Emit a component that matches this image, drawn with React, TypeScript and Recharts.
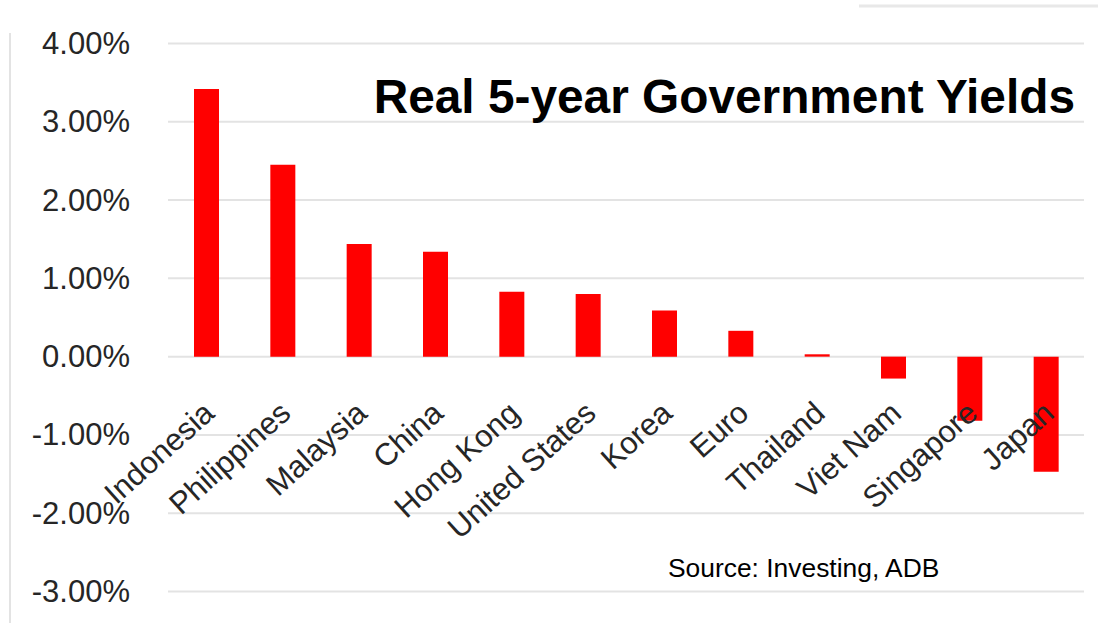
import React from 'react';
import { BarChart, Bar, XAxis, YAxis, CartesianGrid } from 'recharts';

const countries = [
  'Indonesia', 'Philippines', 'Malaysia', 'China', 'Hong Kong', 'United States',
  'Korea', 'Euro', 'Thailand', 'Viet Nam', 'Singapore', 'Japan',
];
const realYields = [3.42, 2.45, 1.44, 1.34, 0.83, 0.8, 0.59, 0.33, 0.03, -0.28, -0.82, -1.47];
const yTicks = [-3, -2, -1, 0, 1, 2, 3, 4];

const W = 1098;
const H = 623;
const TOP = 43.5;
const BOTTOM = 31.5;
const X_AXIS_H = 1;
const FONT = '"Liberation Sans", Arial, sans-serif';

const data = countries.map((name, i) => ({ name, value: realYields[i] }));

// y pixel of the zero line, so the rotated labels sit under it like Excel does
const plotH = H - TOP - BOTTOM;
const zeroY = TOP + (plotH * yTicks[yTicks.length - 1]) / (yTicks[yTicks.length - 1] - yTicks[0]);

const YTick = (props: any) => {
  const { x, y, payload } = props;
  return (
    <text x={x} y={y} textAnchor="end" dominantBaseline="central"
      fontFamily={FONT} fontSize={31} fill="#262626">
      {payload.value.toFixed(2)}%
    </text>
  );
};

const CountryTick = (props: any) => {
  const { x, payload } = props;
  const ax = x + 10;
  const ay = zeroY + 59;
  return (
    <text x={ax} y={ay} textAnchor="end" transform={`rotate(-42, ${ax}, ${ay})`}
      fontFamily={FONT} fontSize={31} fill="#262626">
      {payload.value}
    </text>
  );
};

export default function App() {
  return (
    <div style={{ position: 'fixed', left: 0, top: 0, width: W, height: H, background: '#fff' }}>
      <BarChart width={W} height={H} data={data}
        margin={{ top: TOP, right: 14, bottom: BOTTOM - X_AXIS_H, left: 0 }}>
        <CartesianGrid vertical={false} stroke="#e3e3e3" strokeWidth={2} />
        <XAxis dataKey="name" height={X_AXIS_H} interval={0} axisLine={false} tickLine={false}
          tick={<CountryTick />} />
        <YAxis width={168} domain={[-3, 4]} ticks={yTicks} axisLine={false} tickLine={false}
          tickSize={0} tickMargin={38} tick={<YTick />} />
        <Bar dataKey="value" fill="#ff0000" barSize={25} isAnimationActive={false} />
      </BarChart>
      <svg width={W} height={H} style={{ position: 'absolute', left: 0, top: 0, pointerEvents: 'none' }}>
        <line x1={10} y1={33} x2={10} y2={H} stroke="#e3e3e3" strokeWidth={2} />
        <line x1={859} y1={6} x2={W} y2={6} stroke="#e8e8e8" strokeWidth={3} />
        <text x={1075} y={113} textAnchor="end" fontFamily={FONT} fontSize={47.8}
          fontWeight="bold" fill="#000">
          Real 5-year Government Yields
        </text>
        <text x={668} y={577} fontFamily={FONT} fontSize={26.4} fill="#000">
          Source: Investing, ADB
        </text>
      </svg>
    </div>
  );
}
